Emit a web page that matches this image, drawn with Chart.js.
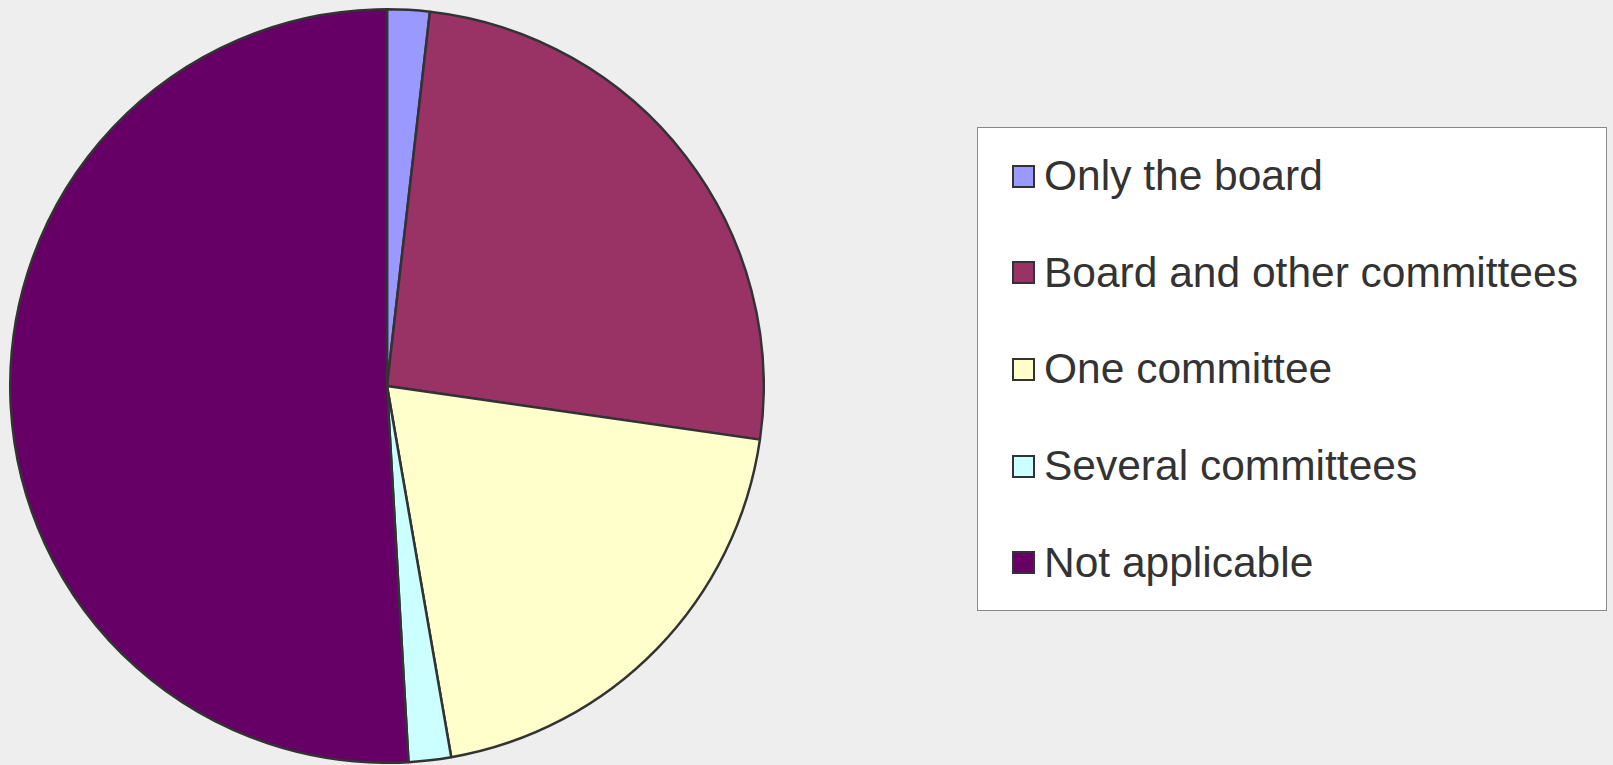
<!DOCTYPE html>
<html>
<head>
<meta charset="utf-8">
<script src="https://cdn.jsdelivr.net/npm/chart.js@4"></script>
<style>
  html, body { margin: 0; padding: 0; background: #EEEEEE; width: 1613px; height: 765px; overflow: hidden; }
  #wrap { position: absolute; left: 9px; top: 8px; width: 756px; height: 756px; }
  #legend { position: absolute; left: 977px; top: 127px; width: 628px; height: 482px; background: #FFFFFF; border: 1px solid #888888; font-family: "Liberation Sans", Arial, sans-serif; }
  .item { position: absolute; left: 34px; height: 40px; display: flex; align-items: center; }
  .sw { width: 19px; height: 19px; border: 2px solid #333333; margin-right: 9px; }
  .lbl { font-size: 42.5px; color: #333333; line-height: 40px; }
</style>
</head>
<body>
<div id="wrap"><canvas id="c" width="756" height="756"></canvas></div>
<div id="legend"></div>
<script>
const categories = ["Only the board", "Board and other committees", "One committee", "Several committees", "Not applicable"];
const values = [1, 14, 11, 1, 28];
const colors = ["#9999FF", "#993366", "#FFFFCC", "#CCFFFF", "#660066"];

new Chart(document.getElementById('c'), {
  type: 'pie',
  data: {
    labels: categories,
    datasets: [{
      data: values,
      backgroundColor: colors,
      borderColor: "#333333",
      borderWidth: 2.5
    }]
  },
  options: {
    responsive: false,
    animation: false,
    layout: { padding: 0 },
    plugins: { legend: { display: false }, tooltip: { enabled: false } }
  }
});

const legend = document.getElementById('legend');
categories.forEach((name, i) => {
  const it = document.createElement('div');
  it.className = 'item';
  it.style.top = (28 + i * 96.7) + 'px';
  const sw = document.createElement('div');
  sw.className = 'sw';
  sw.style.background = colors[i];
  const lb = document.createElement('div');
  lb.className = 'lbl';
  lb.textContent = name;
  it.appendChild(sw);
  it.appendChild(lb);
  legend.appendChild(it);
});
</script>
</body>
</html>
